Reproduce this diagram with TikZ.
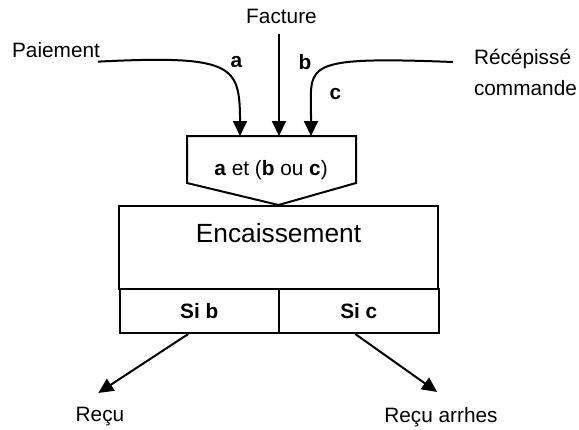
\documentclass[tikz,border=0pt]{standalone}
\usepackage{fontspec}
\setmainfont{Liberation Sans}
\usetikzlibrary{arrows.meta}
\usetikzlibrary{positioning}
\usetikzlibrary{calc}

\begin{document}
\begin{tikzpicture}[->,>={Triangle[length=15pt,width=14pt]},x=1pt,y=-1pt,
			line width=2pt]
			\tikzstyle{every node}=[font=\fontsize{20.8}{31}\selectfont,inner sep=3pt]
			\tikzstyle{box}=[draw,rectangle,minimum height=44pt]
			\tikzstyle{lbl}=[font=\fontsize{20.8}{25}\selectfont\bfseries]
			
			\useasboundingbox (0,0) rectangle (579,429);
			
			% entrees
			\node (Facture)   at (281.5,16) {Facture};
			\node (Paiement)  at (56,50)    {Paiement};
			\node[align=left,anchor=north west] (Recepisse) at (470,45) {Récépissé\\commande};
			
			% condition
			\node[rectangle,minimum width=169pt,minimum height=47pt,outer sep=0pt] (cond) at (271.5,159.5) {};
			\node (condtext) at (271,170) {\textbf{a} et (\textbf{b} ou \textbf{c})};
			
			% processus
			\node[box,minimum width=319pt,minimum height=83pt] (enc) at (278.5,247.5) {};
			\node[font=\fontsize{26.3}{31}\selectfont] (enctext) at (278.5,233) {Encaissement};
			\node[box,minimum width=159.5pt] (Sib) at (199.25,311) {\textbf{Si b}};
			\node[box,minimum width=159.5pt] (Sic) at (358.75,311) {\textbf{Si c}};
			
			% sorties
			\node (Recu)   at (100,417) {Reçu};
			\node (Arrhes) at (441,417) {Reçu arrhes};
			
			\draw[-] (cond.north west) -- (cond.north east) -- (cond.south east)
			-- (enc.north) -- (cond.south west) -- cycle;
			
			\draw ([xshift=-6pt]Paiement.south east) .. controls (230,55) and (239,65) .. (240,115)
			-- (240,0 |- cond.north);
			\draw[shorten <=7pt] (Facture.south -| 279,0) -- (279,0 |- cond.north);
			\draw ($(Recepisse.north west)+(-17,17)$) .. controls (300,56) and (311,65) .. (311,115)
			-- (311,0 |- cond.north);
			
			\node[lbl] (la) at (236.5,62) {a};
			\node[lbl] (lb) at (305,62)   {b};
			\node[lbl] (lc) at (335.5,94) {c};
			
			\draw[shorten >=19.5pt] ([xshift=-11pt]Sib.south) -- ([xshift=-18pt]Recu.north);
			\draw[shorten >=19.5pt] ([xshift=-3.5pt]Sic.south) -- ([xshift=12pt]Arrhes.north);
\end{tikzpicture}
\end{document}
